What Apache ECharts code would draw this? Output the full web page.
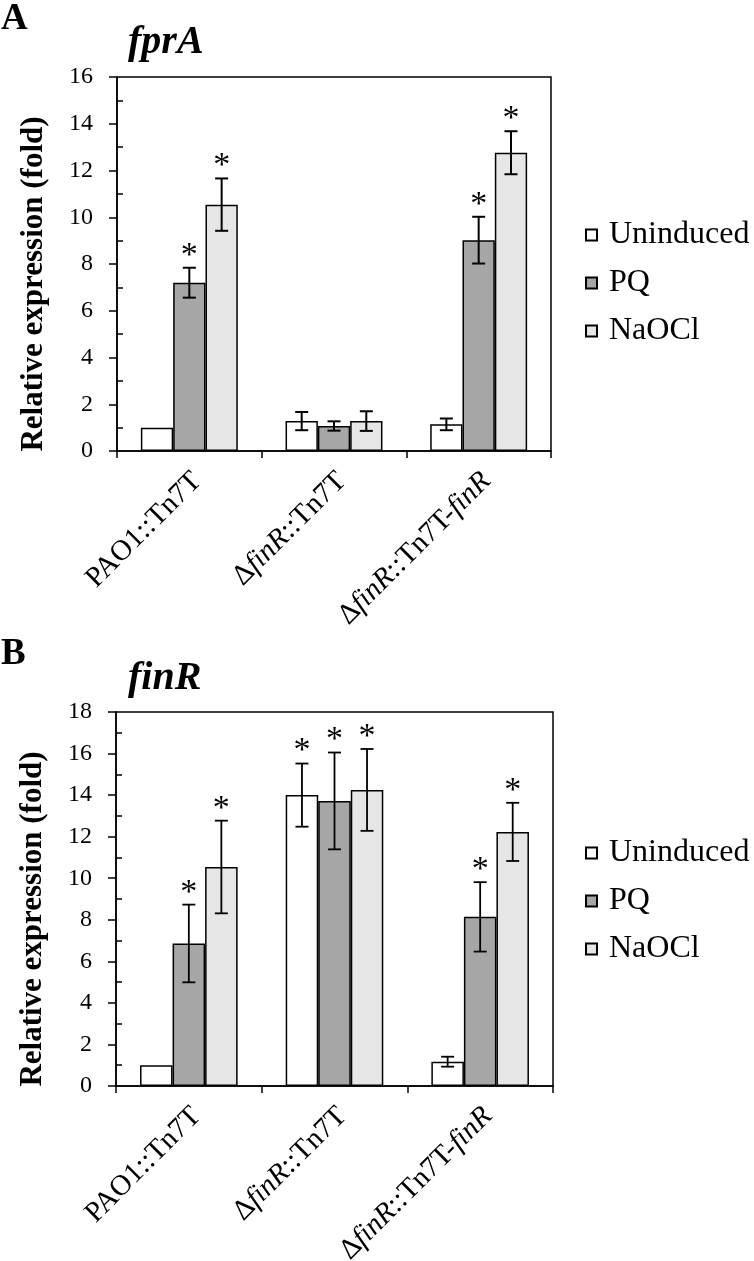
<!DOCTYPE html>
<html>
<head>
<meta charset="utf-8">
<script src="https://cdn.jsdelivr.net/npm/echarts@6/dist/echarts.min.js"></script>
<style>
html,body{margin:0;padding:0;background:#fff;}
#chart{width:754px;height:1261px;}
</style>
</head>
<body>
<div id="chart"></div>
<script>
// ---- data ----
const categories = ['PAO1::Tn7T', 'ΔfinR::Tn7T', 'ΔfinR::Tn7T-finR'];
const seriesNames = ['Uninduced', 'PQ', 'NaOCl'];
const yTicksA = [0, 2, 4, 6, 8, 10, 12, 14, 16];
const yTicksB = [0, 2, 4, 6, 8, 10, 12, 14, 16, 18];

// Panel A: fprA
const fprA_Uninduced = [1.0, 1.28, 1.14];
const fprA_PQ = [7.2, 1.07, 9.02];
const fprA_NaOCl = [10.54, 1.28, 12.76];
const fprA_UninducedErr = [0, 0.39, 0.25];
const fprA_PQErr = [0.64, 0.2, 1.0];
const fprA_NaOClErr = [1.12, 0.42, 0.92];
const fprA_UninducedSig = [false, false, false];
const fprA_PQSig = [true, false, true];
const fprA_NaOClSig = [true, false, true];

// Panel B: finR
const finR_Uninduced = [1.0, 14.0, 1.17];
const finR_PQ = [6.86, 13.72, 8.14];
const finR_NaOCl = [10.54, 14.25, 12.23];
const finR_UninducedErr = [0, 1.52, 0.24];
const finR_PQErr = [1.87, 2.33, 1.67];
const finR_NaOClErr = [2.23, 1.97, 1.4];
const finR_UninducedSig = [false, true, false];
const finR_PQSig = [true, true, true];
const finR_NaOClSig = [true, true, true];

// ---- styles ----
const FONT = '"Liberation Serif", "Times New Roman", serif';
const colors = ['#ffffff', '#a6a6a6', '#e6e6e6'];
const GAP = 0.33;

const panels = [
  {
    vals: [fprA_Uninduced, fprA_PQ, fprA_NaOCl],
    errs: [fprA_UninducedErr, fprA_PQErr, fprA_NaOClErr],
    sigs: [fprA_UninducedSig, fprA_PQSig, fprA_NaOClSig],
    ticks: yTicksA, grid: {left: 117, top: 77, width: 434, height: 374},
    errW: 2, legendTop: 214
  },
  {
    vals: [finR_Uninduced, finR_PQ, finR_NaOCl],
    errs: [finR_UninducedErr, finR_PQErr, finR_NaOClErr],
    sigs: [finR_UninducedSig, finR_PQSig, finR_NaOClSig],
    ticks: yTicksB, grid: {left: 116, top: 712, width: 437, height: 374},
    errW: 1.8, legendTop: 832
  }
];

function labelFmt(v) {
  return v.replace(/finR/g, '{i|finR}');
}

const option = {
  animation: false,
  backgroundColor: '#fff',
  textStyle: {fontFamily: FONT},
  grid: [], xAxis: [], yAxis: [], series: [], legend: [],
  graphic: [
    {type: 'text', left: 1, top: 1, style: {text: 'A', font: 'bold 37px ' + FONT, fill: '#000'}},
    {type: 'text', left: 128, top: 23, style: {text: 'fprA', font: 'italic bold 40px ' + FONT, fill: '#000'}},
    {type: 'text', left: 1, top: 636, style: {text: 'B', font: 'bold 37px ' + FONT, fill: '#000'}},
    {type: 'text', left: 128, top: 659, style: {text: 'finR', font: 'italic bold 40px ' + FONT, fill: '#000'}}
  ]
};

panels.forEach((p, pi) => {
  const maxV = p.ticks[p.ticks.length - 1];
  const minorVals = [];
  for (let k = 1; k < maxV; k += 2) minorVals.push(k);
  option.grid.push(Object.assign({
    show: true, borderColor: '#000', borderWidth: 1.5, backgroundColor: 'transparent',
    containLabel: false, outerBoundsMode: 'none'
  }, p.grid));
  option.xAxis.push({
    type: 'category', gridIndex: pi, data: categories,
    axisLine: {lineStyle: {color: '#000', width: 1.5}},
    axisTick: {show: true, length: 7, lineStyle: {color: '#000', width: 1.5}},
    axisLabel: {
      rotate: 45, margin: 18, color: '#000', fontFamily: FONT, fontSize: 29,
      padding: [22, 0, 0, 0],
      formatter: labelFmt,
      rich: {i: {fontStyle: 'italic', fontFamily: FONT, fontSize: 29, color: '#000'}}
    }
  });
  option.yAxis.push({
    type: 'value', gridIndex: pi, min: 0, max: maxV, interval: 2,
    name: 'Relative expression (fold)', nameLocation: 'middle', nameGap: 68,
    nameTextStyle: {fontFamily: FONT, fontWeight: 'bold', fontSize: 31, color: '#000', padding: [0, 40, 0, 0]},
    axisLine: {show: true, lineStyle: {color: '#000', width: 1.5}},
    axisTick: {show: true, length: 8, lineStyle: {color: '#000', width: 1.5}},
    axisLabel: {color: '#000', fontFamily: FONT, fontSize: 24, margin: 24},
    splitLine: {show: false}
  });
  option.yAxis.push({
    type: 'value', gridIndex: pi, min: 0, max: maxV, position: 'left',
    axisLine: {show: false},
    axisTick: {show: true, inside: true, length: 6, customValues: minorVals, lineStyle: {color: '#000', width: 1.5}},
    axisLabel: {show: false}, splitLine: {show: false}
  });
  seriesNames.forEach((name, si) => {
    option.series.push({
      type: 'bar', name: name, xAxisIndex: pi, yAxisIndex: pi * 2,
      data: p.vals[si], barGap: '0%', barCategoryGap: (GAP * 100) + '%',
      itemStyle: {color: colors[si], borderColor: '#000', borderWidth: 1.5}
    });
  });
  seriesNames.forEach((name, si) => {
    const data = p.vals[si].map((v, ci) => [ci, v, p.errs[si][ci], p.sigs[si][ci] ? 1 : 0]);
    option.series.push({
      type: 'custom', name: 'err-' + name + '-' + pi, xAxisIndex: pi, yAxisIndex: pi * 2,
      data: data, z: 5,
      renderItem: function (params, api) {
        const ci = api.value(0), v = api.value(1), e = api.value(2), s = api.value(3);
        const band = api.size([1, 0])[0];
        const bw = band * (1 - GAP) / 3;
        const c = api.coord([ci, v]);
        const x = c[0] + (si - 1) * bw;
        const top = api.coord([ci, v + e])[1];
        const bot = api.coord([ci, v - e])[1];
        const children = [];
        const cap = 6.5;
        if (e > 0) {
          const ls = {stroke: '#000', lineWidth: p.errW};
          children.push({type: 'line', shape: {x1: x, y1: top, x2: x, y2: bot}, style: ls});
          children.push({type: 'line', shape: {x1: x - cap, y1: top, x2: x + cap, y2: top}, style: ls});
          children.push({type: 'line', shape: {x1: x - cap, y1: bot, x2: x + cap, y2: bot}, style: ls});
        }
        if (s) {
          const ty = (e > 0 ? top : c[1]) - 12;
          children.push({type: 'text', style: {text: '*', x: x, y: ty, align: 'center', verticalAlign: 'middle', font: '34px ' + FONT, fill: '#000'}});
        }
        return {type: 'group', children: children};
      }
    });
  });
  option.legend.push({
    data: seriesNames, orient: 'vertical', left: 580, top: p.legendTop,
    itemWidth: 11, itemHeight: 11, itemGap: 16, icon: 'rect',
    textStyle: {fontFamily: FONT, fontSize: 32, color: '#000', lineHeight: 30, padding: [0, 0, 0, 7]},
    selectedMode: false
  });
});

const chart = echarts.init(document.getElementById('chart'), null, {renderer: 'canvas'});
chart.setOption(option);
</script>
</body>
</html>
